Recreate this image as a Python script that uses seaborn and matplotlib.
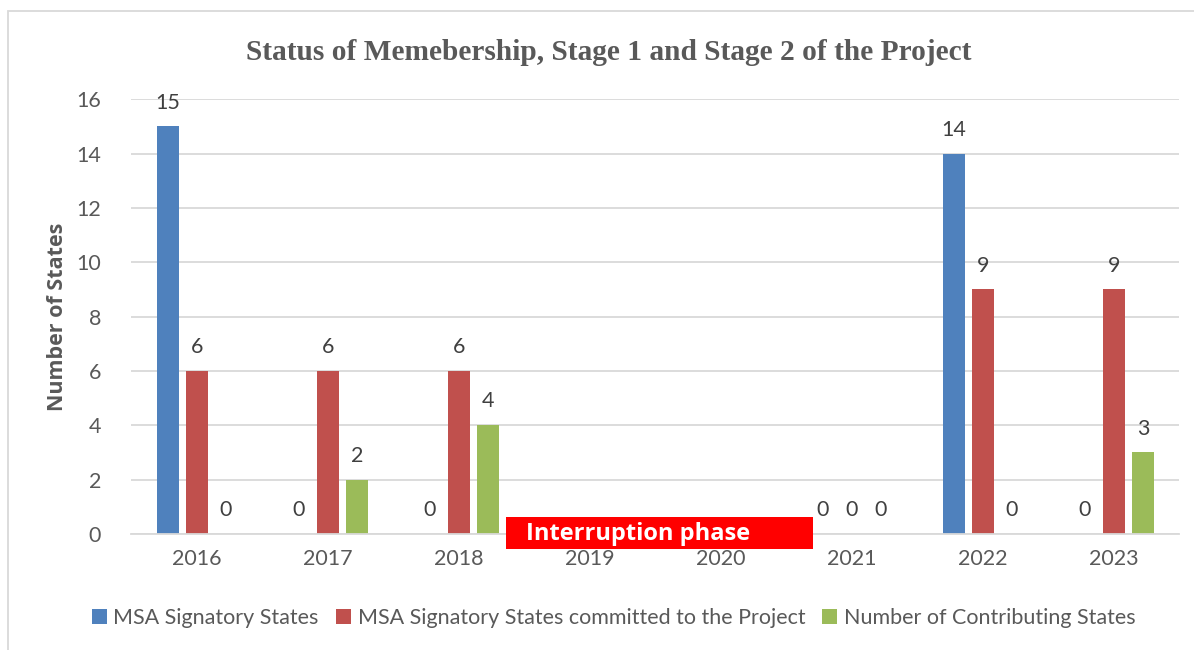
import numpy as np
import pandas as pd
import matplotlib
matplotlib.use("Agg")
import matplotlib.pyplot as plt
from matplotlib.patches import Rectangle
import seaborn as sns

years = ["2016", "2017", "2018", "2019", "2020", "2021", "2022", "2023"]
signatory = [15, 0, 0, np.nan, np.nan, 0, 14, 0]
committed = [6, 6, 6, np.nan, np.nan, 0, 9, 9]
contributing = [0, 2, 4, np.nan, np.nan, 0, 0, 3]
series_names = ["MSA Signatory States",
                "MSA Signatory States committed to the Project",
                "Number of Contributing States"]
colors = ["#4F81BD", "#C0504D", "#9BBB59"]

df = pd.DataFrame({"Year": years,
                   series_names[0]: signatory,
                   series_names[1]: committed,
                   series_names[2]: contributing})
long_df = df.melt(id_vars="Year", var_name="Series", value_name="States")

sns.set_style("white")
plt.rcParams["font.family"] = ["Lato", "DejaVu Sans"]

fig = plt.figure(figsize=(11.94, 6.5), dpi=100)
ax = fig.add_axes([0.1101, 0.1785, 0.8777, 0.6688])

sns.barplot(data=long_df, x="Year", y="States", hue="Series", order=years,
            hue_order=series_names, palette=colors, width=0.664, gap=0.22,
            saturation=1, linewidth=0, errorbar=None, ax=ax, legend=True)

for cont in ax.containers:
    ax.bar_label(cont, fmt="%d", padding=10, fontsize=15.5, color="#404040")

ax.set_ylim(0, 16)
ax.set_xlim(-0.5, 7.5)
ax.set_yticks(range(0, 17, 2))
ax.yaxis.grid(True, color="#D9D9D9", linewidth=1.3)
ax.set_axisbelow(True)
for s in ["top", "right", "left"]:
    ax.spines[s].set_visible(False)
ax.spines["bottom"].set_color("#D9D9D9")
ax.spines["bottom"].set_linewidth(1.3)
ax.tick_params(axis="both", length=0, labelsize=15.5, labelcolor="#595959")
ax.tick_params(axis="x", pad=11)
ax.tick_params(axis="y", pad=22)
ax.set_xlabel("")
ax.set_ylabel("Number of States", fontsize=15.5, fontweight="bold",
              color="#595959", labelpad=6, family=["Open Sans", "DejaVu Sans"])

# interruption phase marker
ax.add_patch(Rectangle((2.359, -0.552), 2.343, 1.178, facecolor="#FF0000",
                       edgecolor="none", clip_on=False, zorder=5))
ax.text(2.51, 0.0, "Interruption phase", color="white", fontsize=17,
        fontweight="bold", ha="left", va="center", zorder=6, clip_on=False,
        family=["Open Sans", "DejaVu Sans"])

fig.suptitle("Status of Memebership, Stage 1 and Stage 2 of the Project",
             x=0.51, y=0.94, fontsize=21.2, fontweight="bold",
             color="#595959", family=["Liberation Serif", "DejaVu Serif"])

handles, labels = ax.get_legend_handles_labels()
ax.legend_.remove()
fig.legend(handles, labels, loc="center", bbox_to_anchor=(0.514, 0.049),
           ncol=3, frameon=False, handlelength=0.7, handleheight=0.7,
           handletextpad=0.3, columnspacing=0.8,
           prop={"size": 15.5}, labelcolor="#595959")

# outer chart border
fig.patches.append(Rectangle((8 / 1194, -0.1), 1.2, (650 - 11) / 650 + 0.1,
                             transform=fig.transFigure, fill=False,
                             edgecolor="#D9D9D9", linewidth=1.3))

fig.savefig("out.png", dpi=100)
